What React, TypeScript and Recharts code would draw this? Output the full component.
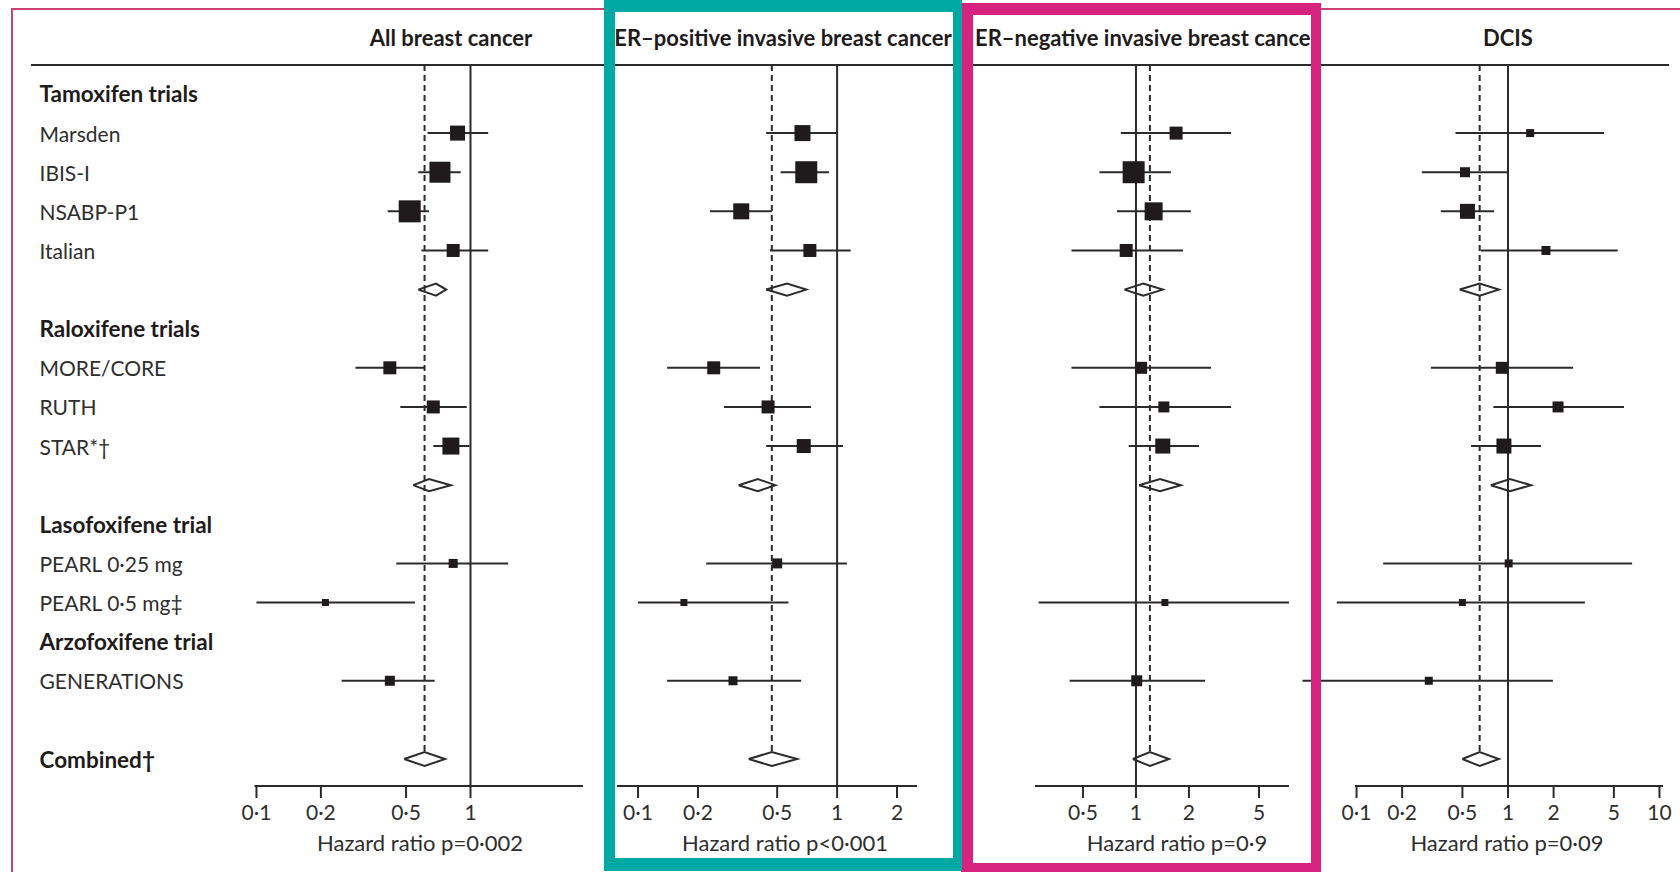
import React from 'react';
import { ComposedChart, Scatter, XAxis, YAxis, ReferenceLine } from 'recharts';

// ---------- DATA ----------
const rowLabels = [
  'Tamoxifen trials', 'Marsden', 'IBIS-I', 'NSABP-P1', 'Italian', '',
  'Raloxifene trials', 'MORE/CORE', 'RUTH', 'STAR*†', '',
  'Lasofoxifene trial', 'PEARL 0·25 mg', 'PEARL 0·5 mg‡',
  'Arzofoxifene trial', 'GENERATIONS', '', 'Combined†',
];
const headerRows = [0, 6, 11, 14, 17];
const trialRows = [1, 2, 3, 4, 7, 8, 9, 12, 13, 15];
const summaryRows = [5, 10, 17];

const panelTitles = [
  'All breast cancer',
  'ER–positive invasive breast cancer',
  'ER–negative invasive breast cancer',
  'DCIS',
];
const axisTitles = [
  'Hazard ratio p=0·002',
  'Hazard ratio p<0·001',
  'Hazard ratio p=0·9',
  'Hazard ratio p=0·09',
];
const ticksAll = [0.1, 0.2, 0.5, 1];
const ticksPos = [0.1, 0.2, 0.5, 1, 2];
const ticksNeg = [0.5, 1, 2, 5];
const ticksDcis = [0.1, 0.2, 0.5, 1, 2, 5, 10];

// All breast cancer
const allHR = [0.87, 0.72, 0.52, 0.83, 0.42, 0.67, 0.81, 0.83, 0.21, 0.42];
const allLow = [0.63, 0.57, 0.41, 0.59, 0.29, 0.47, 0.67, 0.45, 0.1, 0.25];
const allHigh = [1.21, 0.9, 0.64, 1.21, 0.61, 0.96, 0.99, 1.5, 0.55, 0.68];
const allWeight = [15, 21, 22, 13, 13, 13, 17, 9, 7, 10];
const allSumHR = [0.69, 0.64, 0.61];
const allSumLow = [0.57, 0.54, 0.49];
const allSumHigh = [0.77, 0.81, 0.76];

// ER-positive
const posHR = [0.67, 0.7, 0.33, 0.73, 0.24, 0.45, 0.68, 0.5, 0.17, 0.3];
const posLow = [0.44, 0.52, 0.23, 0.46, 0.14, 0.27, 0.44, 0.22, 0.1, 0.14];
const posHigh = [1.0, 0.91, 0.47, 1.17, 0.41, 0.74, 1.07, 1.12, 0.57, 0.66];
const posWeight = [16, 22, 16, 13, 13, 13, 14, 10, 7, 9];
const posSumHR = [0.56, 0.4, 0.47];
const posSumLow = [0.44, 0.32, 0.36];
const posSumHigh = [0.7, 0.49, 0.63];

// ER-negative
const negHR = [1.69, 0.97, 1.26, 0.88, 1.07, 1.44, 1.42, null, 1.46, 1.01];
const negLow = [0.82, 0.62, 0.78, 0.43, 0.43, 0.62, 0.91, null, 0.28, 0.42];
const negHigh = [3.47, 1.58, 2.05, 1.85, 2.67, 3.47, 2.28, null, 7.4, 2.47];
const negWeight = [13, 22, 18, 13, 12, 11, 15, null, 7, 11];
const negSumHR = [1.1, 1.37, 1.2];
const negSumLow = [0.86, 1.04, 0.96];
const negSumHigh = [1.42, 1.8, 1.54];

// DCIS
const dcisHR = [1.4, 0.52, 0.54, 1.78, 0.91, 2.14, 0.94, 1.01, 0.5, 0.3];
const dcisLow = [0.45, 0.27, 0.36, 0.66, 0.31, 0.8, 0.57, 0.15, 0.074, 0.044];
const dcisHigh = [4.3, 1.0, 0.81, 5.3, 2.69, 5.83, 1.65, 6.6, 3.22, 1.98];
const dcisWeight = [8, 10, 15, 9, 12, 11, 15, 8, 7, 8];
const dcisSumHR = [0.65, 1.03, 0.65];
const dcisSumLow = [0.48, 0.77, 0.5];
const dcisSumHigh = [0.87, 1.42, 0.87];

// ---------- STYLE / LAYOUT ----------
const FONT = 'Lato, "Open Sans", sans-serif';
const INK = '#1f1b1c';
const TEXT = '#2e2e2e';
const LINE = '#2b2b2b';
const W = 1680;
const H = 872;
const ROW_DOMAIN: [number, number] = [-0.741, 17.69];
const WEIGHT_PX = 1;
const DIAMOND_H = 0.155;
const COMBINED_H = 0.18;

type Panel = {
  hr: (number | null)[]; low: (number | null)[]; high: (number | null)[]; weight: (number | null)[];
  sHR: number[]; sLow: number[]; sHigh: number[];
  ticks: number[]; domain: [number, number]; left: number; right: number; labels: boolean;
};

const panels: Panel[] = [
  { hr: allHR, low: allLow, high: allHigh, weight: allWeight, sHR: allSumHR, sLow: allSumLow, sHigh: allSumHigh,
    ticks: ticksAll, domain: [0.0979, 3.355], left: 254.5, right: 583, labels: true },
  { hr: posHR, low: posLow, high: posHigh, weight: posWeight, sHR: posSumHR, sLow: posSumLow, sHigh: posSumHigh,
    ticks: ticksPos, domain: [0.0784, 2.52], left: 617, right: 917, labels: false },
  { hr: negHR, low: negLow, high: negHigh, weight: negWeight, sHR: negSumHR, sLow: negSumLow, sHigh: negSumHigh,
    ticks: ticksNeg, domain: [0.267, 7.4], left: 1035, right: 1289, labels: false },
  { hr: dcisHR, low: dcisLow, high: dcisHigh, weight: dcisWeight, sHR: dcisSumHR, sLow: dcisSumLow, sHigh: dcisSumHigh,
    ticks: ticksDcis, domain: [0.0977, 10.55], left: 1355, right: 1663, labels: false },
];

const Square = (props: any) => {
  const { cx, cy, payload } = props;
  const s = payload.w * WEIGHT_PX;
  return <rect x={cx - s / 2} y={cy - s / 2} width={s} height={s} fill={INK} />;
};

const NoShape = () => <g />;

const RowLabelTick = (props: any) => {
  const { y, payload } = props;
  const idx = Math.round(payload.value);
  const label = rowLabels[idx];
  if (!label) return <g />;
  const bold = headerRows.includes(idx);
  return (
    <text x={39.5} y={y} dominantBaseline="central" fontFamily={FONT} fontSize={bold ? 22.5 : 21}
      fontWeight={bold ? 700 : 400} fill={bold ? INK : TEXT}>{label}</text>
  );
};

const fmt = (v: number) => String(v).replace('.', '·');

function PanelChart({ p }: { p: Panel }) {
  const trials = trialRows
    .map((row, i) => (p.hr[i] == null ? null : { x: p.hr[i] as number, y: row, low: p.low[i] as number, high: p.high[i] as number, w: p.weight[i] as number }))
    .filter(Boolean) as { x: number; y: number; low: number; high: number; w: number }[];
  const diamonds = summaryRows.map((row, i) => {
    const h = i === 2 ? COMBINED_H : DIAMOND_H;
    return [
      { x: p.sLow[i], y: row },
      { x: p.sHR[i], y: row - h },
      { x: p.sHigh[i], y: row },
      { x: p.sHR[i], y: row + h },
      { x: p.sLow[i], y: row },
    ];
  });
  const pooled = p.sHR[2];
  return (
    <div style={{ position: 'absolute', left: 0, top: 0 }}>
      <ComposedChart width={W} height={H}
        margin={{ top: 65, right: W - p.right, bottom: 26, left: p.labels ? 0 : p.left }}>
        <XAxis type="number" dataKey="x" scale="log" domain={p.domain} allowDataOverflow ticks={p.ticks}
          interval={0} height={60} tickSize={12} tickMargin={7} tickFormatter={fmt}
          axisLine={{ stroke: LINE, strokeWidth: 2 }} tickLine={{ stroke: LINE, strokeWidth: 2 }}
          tick={{ fill: TEXT, fontSize: 21, fontFamily: FONT }} />
        {p.labels ? (
          <YAxis type="number" dataKey="y" domain={ROW_DOMAIN} allowDataOverflow reversed
            ticks={rowLabels.map((_, i) => i)} interval={0} width={p.left}
            axisLine={false} tickLine={false} tick={<RowLabelTick />} />
        ) : (
          <YAxis type="number" dataKey="y" domain={ROW_DOMAIN} allowDataOverflow reversed hide />
        )}
        <ReferenceLine x={1} stroke={LINE} strokeWidth={2} />
        <ReferenceLine segment={[{ x: pooled, y: ROW_DOMAIN[0] }, { x: pooled, y: 17 - COMBINED_H }]}
          stroke={LINE} strokeWidth={2} strokeDasharray="6 4" ifOverflow="visible" />
        {trials.map((t, i) => (
          <ReferenceLine key={'ci' + i} segment={[{ x: t.low, y: t.y }, { x: t.high, y: t.y }]}
            stroke={LINE} strokeWidth={2} ifOverflow="visible" />
        ))}
        <Scatter data={trials} shape={Square} isAnimationActive={false} />
        {diamonds.map((d, i) => (
          <Scatter key={'dm' + i} data={d} shape={NoShape} isAnimationActive={false}
            line={{ stroke: LINE, strokeWidth: 2, fill: 'none', strokeLinejoin: 'miter' }} lineType="joint" />
        ))}
      </ComposedChart>
    </div>
  );
}

const titleCenters = [451, 783, 0, 1508];
const axisTitleCenters = [420, 785, 1177, 1507];

export default function App() {
  return (
    <div style={{ position: 'absolute', left: 0, top: 0, width: W, height: H, background: '#fff', overflow: 'hidden', fontFamily: FONT }}>
      <div style={{ position: 'absolute', left: 11, top: 8, width: 1720, height: 900, borderLeft: '2px solid #c8436f', borderTop: '2px solid #c8436f' }} />
      {panels.map((p, i) => <PanelChart key={i} p={p} />)}
      {panelTitles.map((t, i) => (
        i === 2 ? (
          <div key={'t' + i} style={{ position: 'absolute', left: 975, top: 24, width: 345, overflow: 'hidden', whiteSpace: 'nowrap', fontSize: 22, fontWeight: 700, color: INK, lineHeight: '28px' }}>{t}</div>
        ) : (
          <div key={'t' + i} style={{ position: 'absolute', left: titleCenters[i] - 250, top: 24, width: 500, textAlign: 'center', whiteSpace: 'nowrap', fontSize: 22, fontWeight: 700, color: INK, lineHeight: '28px' }}>{t}</div>
        )
      ))}
      {axisTitles.map((t, i) => (
        <div key={'a' + i} style={{ position: 'absolute', left: axisTitleCenters[i] - 150, top: 829, width: 300, textAlign: 'center', whiteSpace: 'nowrap', fontSize: 22, color: TEXT, lineHeight: '28px' }}>{t}</div>
      ))}
      <div style={{ position: 'absolute', left: 31, top: 64, width: 1638, height: 2, background: LINE }} />
      <div style={{ position: 'absolute', left: 961, top: 3, width: 360, height: 870, boxSizing: 'border-box', borderStyle: 'solid', borderColor: '#d6237f', borderWidth: '12px 10px 10px 12px' }} />
      <div style={{ position: 'absolute', left: 604, top: 0, width: 358, height: 871, boxSizing: 'border-box', borderStyle: 'solid', borderColor: '#00a9a4', borderWidth: '12px 9px 13px 11px' }} />
    </div>
  );
}
